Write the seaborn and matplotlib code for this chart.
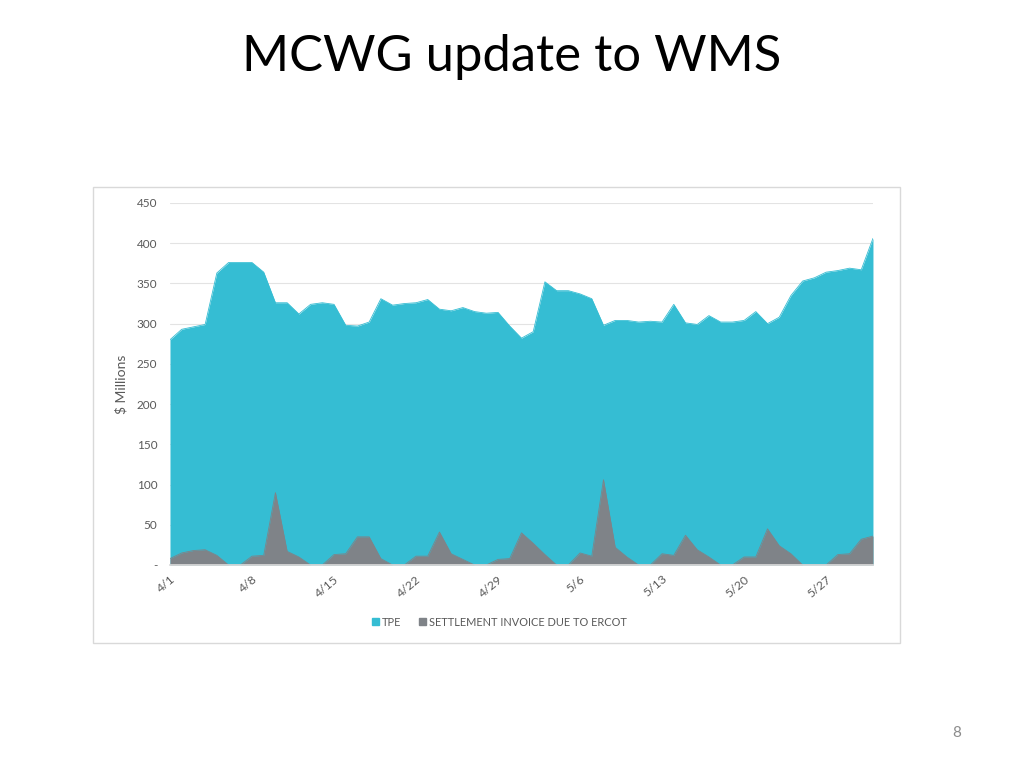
import numpy as np
import pandas as pd
import matplotlib
matplotlib.use("Agg")
import matplotlib.pyplot as plt
import seaborn as sns
from matplotlib.patches import Rectangle

# daily values, 4/1 .. 5/31 ($ millions)
tpe = [280, 293, 296, 299, 363, 376, 376, 376, 364, 326,
       326, 312, 324, 326, 324, 298, 297, 302, 331, 323,
       325, 326, 330, 318, 316, 320, 315, 313, 314, 297,
       282, 290, 352, 341, 341, 337, 331, 298, 304, 304,
       302, 303, 302, 324, 301, 299, 310, 302, 302, 304,
       315, 300, 308, 335, 353, 357, 364, 366, 369, 367,
       406]
settlement = [8, 15, 18, 19, 12, 0, 0, 11, 12, 90,
              17, 10, 0, 0, 13, 14, 35, 35, 8, 0,
              0, 11, 11, 41, 14, 7, 0, 0, 7, 8,
              40, 27, 13, 0, 0, 15, 11, 106, 22, 10,
              0, 0, 14, 12, 37, 19, 10, 0, 0, 10,
              10, 45, 24, 14, 0, 0, 0, 13, 14, 32,
              36]
tick_labels = ["4/1", "4/8", "4/15", "4/22", "4/29", "5/6", "5/13", "5/20", "5/27"]
series_names = ["TPE", "SETTLEMENT INVOICE DUE TO ERCOT"]

TPE_COLOR = "#35bdd3"
GRAY_COLOR = "#7f8388"
TEXT_COLOR = "#595959"

sns.set_theme(style="white")
plt.rcParams["font.family"] = ["Lato", "DejaVu Sans"]

df = pd.DataFrame({"day": np.arange(len(tpe)), "TPE": tpe, "Settlement": settlement})

fig = plt.figure(figsize=(10.24, 7.68), dpi=100)
ax = fig.add_axes([0.166, 0.2643, 0.6865, 0.4714])

# areas (settlement drawn on top of TPE, not stacked)
ax.fill_between(df["day"], df["TPE"], 0, color=TPE_COLOR, linewidth=0, zorder=2)
ax.fill_between(df["day"], df["Settlement"], 0, color=GRAY_COLOR, linewidth=0, zorder=3)
sns.lineplot(data=df, x="day", y="TPE", color=TPE_COLOR, linewidth=0.6, ax=ax, zorder=2, legend=False)
sns.lineplot(data=df, x="day", y="Settlement", color=GRAY_COLOR, linewidth=0.6, ax=ax, zorder=3, legend=False)

ax.set_xlim(0, len(tpe) - 1)
ax.set_ylim(0, 450)
ax.set_yticks(np.arange(0, 451, 50))
ax.set_yticklabels(["-"] + [str(v) for v in range(50, 451, 50)], fontsize=8.5, color=TEXT_COLOR)
ax.yaxis.grid(True, color="#e3e3e3", linewidth=0.8, zorder=0)
ax.set_axisbelow(True)

ax.set_xticks(np.arange(0, len(tpe), 7))
ax.set_xticklabels(tick_labels, rotation=40, ha="right", rotation_mode="anchor", fontsize=8.8, color=TEXT_COLOR)
ax.tick_params(axis="x", length=3, color="#d9d9d9", pad=3)
ax.tick_params(axis="y", length=0, pad=9)

for s in ["top", "right", "left"]:
    ax.spines[s].set_visible(False)
ax.spines["bottom"].set_color("#d9d9d9")
ax.spines["bottom"].set_zorder(4)

ax.set_xlabel("")
ax.set_ylabel("$ Millions", fontsize=10, color=TEXT_COLOR, labelpad=7)

handles = [Rectangle((0, 0), 1, 1, color=TPE_COLOR), Rectangle((0, 0), 1, 1, color=GRAY_COLOR)]
fig.legend(handles, series_names, loc="center", bbox_to_anchor=(0.488, 1 - 622 / 768), ncol=2,
           frameon=False, fontsize=7.9, labelcolor=TEXT_COLOR, handlelength=0.6, handleheight=0.6,
           handletextpad=0.3, columnspacing=1.6)

# chart border
fig.patches.append(Rectangle((93 / 1024, 1 - 643 / 768), 807 / 1024, 456 / 768, transform=fig.transFigure,
                             fill=False, edgecolor="#d9d9d9", linewidth=1))

fig.text(0.5, 1 - 57 / 768, "MCWG update to WMS", ha="center", va="center", fontsize=36.5, color="black")
fig.text(957 / 1024, 1 - 733 / 768, "8", ha="center", va="center", fontsize=11, color="#8c8c8c")

fig.savefig("out.png", dpi=100)
